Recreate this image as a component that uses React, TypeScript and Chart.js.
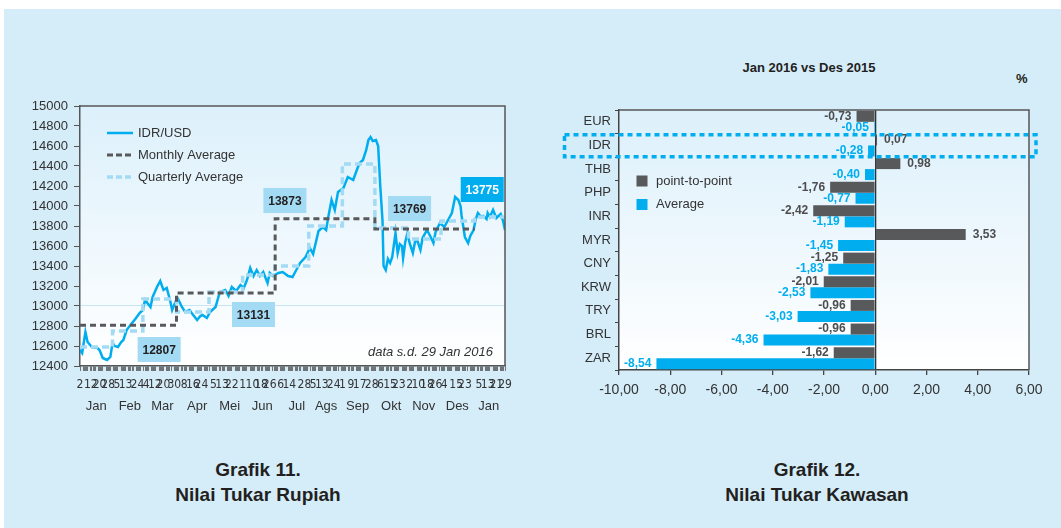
import React, { useEffect, useRef } from 'react';
import { Chart, registerables } from 'chart.js';

Chart.register(...registerables);

const FONT = '"Liberation Sans", Arial, sans-serif';
const NARROW = '"Liberation Sans Narrow", "DejaVu Sans Condensed", "Liberation Sans", sans-serif';
const BLUE = '#00aeef';
const LIGHT = '#a3daf4';
const DARK = '#58595b';
const TEXT = '#333333';

// ---------- Grafik 11 data ----------
const idrDates = [
  '2015-01-02','2015-01-04','2015-01-07','2015-01-09','2015-01-13','2015-01-18','2015-01-20','2015-01-23','2015-01-25','2015-01-27','2015-01-30',
  '2015-02-01','2015-02-03','2015-02-06','2015-02-09','2015-02-11','2015-02-14','2015-02-19','2015-02-22','2015-02-26',
  '2015-03-01','2015-03-03','2015-03-08','2015-03-10','2015-03-14','2015-03-17','2015-03-20','2015-03-23','2015-03-26','2015-03-28','2015-03-31',
  '2015-04-02','2015-04-06','2015-04-09','2015-04-13','2015-04-15','2015-04-20','2015-04-23','2015-04-25','2015-04-29',
  '2015-05-02','2015-05-07','2015-05-11','2015-05-16','2015-05-19','2015-05-22','2015-05-26','2015-05-30',
  '2015-06-02','2015-06-05','2015-06-08','2015-06-11','2015-06-14','2015-06-17','2015-06-20','2015-06-24','2015-06-26','2015-06-29',
  '2015-07-04','2015-07-08','2015-07-13','2015-07-17','2015-07-20','2015-07-24','2015-07-29',
  '2015-08-02','2015-08-05','2015-08-10','2015-08-14','2015-08-17','2015-08-19','2015-08-22','2015-08-25','2015-08-28',
  '2015-09-02','2015-09-06','2015-09-11','2015-09-15','2015-09-17','2015-09-20','2015-09-23','2015-09-25','2015-09-27','2015-09-29',
  '2015-10-02','2015-10-04','2015-10-06','2015-10-08','2015-10-09','2015-10-11','2015-10-13','2015-10-15','2015-10-17','2015-10-20','2015-10-22','2015-10-24','2015-10-26','2015-10-27','2015-10-29','2015-10-31',
  '2015-11-02','2015-11-05','2015-11-07','2015-11-09','2015-11-12','2015-11-14','2015-11-18','2015-11-21','2015-11-24','2015-11-26','2015-11-30',
  '2015-12-04','2015-12-07','2015-12-09','2015-12-11','2015-12-14','2015-12-17','2015-12-19','2015-12-20','2015-12-23','2015-12-26','2015-12-28','2015-12-31',
  '2016-01-02','2016-01-04','2016-01-07','2016-01-09','2016-01-12','2016-01-13','2016-01-15','2016-01-18','2016-01-21','2016-01-23','2016-01-25','2016-01-27','2016-01-29',
];
const idrValues = [
  12560, 12530, 12740, 12640, 12590, 12580, 12560, 12480, 12470, 12460, 12490,
  12630, 12600, 12590, 12640, 12660, 12760, 12830, 12870, 12930,
  12960, 13060, 12990, 13090, 13190, 13250, 13160, 13180, 13060, 12960, 13040,
  13080, 12990, 12940, 12960, 12930, 12860, 12900, 12910, 12880,
  12940, 12990, 13140, 13160, 13100, 13190, 13150, 13210,
  13180, 13260, 13380, 13300, 13360, 13300, 13340, 13230, 13330, 13300,
  13330, 13340, 13300, 13290, 13350, 13430, 13490,
  13580, 13520, 13750, 13790, 13760, 13890, 14060, 13960, 14140,
  14180, 14290, 14260, 14380, 14430, 14460, 14560, 14660, 14690, 14650,
  14660, 14600, 14190, 13860, 13400, 13360, 13470, 13430, 13490, 13730, 13530, 13620, 13600, 13480, 13640, 13730,
  13630, 13530, 13640, 13660, 13560, 13680, 13760, 13700, 13630, 13740, 13830,
  13790, 13850, 13890, 13930, 14090, 14060, 14000, 13900, 13690, 13630, 13700, 13760,
  13870, 13930, 13890, 13900, 13870, 13930, 13890, 13960, 13880, 13900, 13920, 13860, 13760,
];

// dark dashed step line (legend: Monthly Average)
const monthlyAvgDates = ['2015-01-02', '2015-04-01', '2015-07-01', '2015-10-01', '2016-01-01'];
const monthlyAvgValues = [12807, 13131, 13873, 13769, 13769];

// light dashed step line (legend: Quarterly Average)
const quarterlyAvgDates = [
  '2015-01-02', '2015-02-01', '2015-03-01', '2015-04-01', '2015-05-01', '2015-06-01', '2015-07-01',
  '2015-08-01', '2015-09-01', '2015-10-01', '2015-11-01', '2015-12-01', '2016-01-01', '2016-01-29',
];
const quarterlyAvgValues = [12590, 12750, 13070, 12940, 13140, 13310, 13400, 13800, 14420, 13780, 13670, 13850, 13890, 13890];

const boxTexts = ['12807', '13131', '13873', '13769', '13775'];
const boxDates = ['2015-03-16', '2015-06-11', '2015-07-10', '2015-11-02', '2016-01-08'];
const boxValues = [12565, 12915, 14055, 13975, 14165];

const dayTickDates = [
  '2015-01-02','2015-01-12','2015-01-20','2015-01-28',
  '2015-02-05','2015-02-13','2015-02-24',
  '2015-03-04','2015-03-12','2015-03-20','2015-03-30',
  '2015-04-08','2015-04-16','2015-04-24',
  '2015-05-05','2015-05-13','2015-05-22',
  '2015-06-01','2015-06-10','2015-06-18','2015-06-26',
  '2015-07-06','2015-07-14','2015-07-28',
  '2015-08-05','2015-08-13','2015-08-24',
  '2015-09-01','2015-09-09','2015-09-17','2015-09-28',
  '2015-10-06','2015-10-15','2015-10-23',
  '2015-11-02','2015-11-10','2015-11-18','2015-11-26',
  '2015-12-04','2015-12-15','2015-12-23',
  '2016-01-05','2016-01-13','2016-01-21','2016-01-29',
];
const monthLabels = ['Jan', 'Feb', 'Mar', 'Apr', 'Mei', 'Jun', 'Jul', 'Ags', 'Sep', 'Okt', 'Nov', 'Des', 'Jan'];
const monthLabelDates = [
  '2015-01-17', '2015-02-17', '2015-03-19', '2015-04-20', '2015-05-20', '2015-06-19', '2015-07-21',
  '2015-08-17', '2015-09-15', '2015-10-16', '2015-11-15', '2015-12-16', '2016-01-14',
];

// ---------- Grafik 12 data ----------
const currencies = ['EUR', 'IDR', 'THB', 'PHP', 'INR', 'MYR', 'CNY', 'KRW', 'TRY', 'BRL', 'ZAR'];
const pointToPoint = [-0.73, 0.07, 0.98, -1.76, -2.42, 3.53, -1.25, -2.01, -0.96, -0.96, -1.62];
const averageChange = [-0.05, -0.28, -0.40, -0.77, -1.19, -1.45, -1.83, -2.53, -3.03, -4.36, -8.54];

const dayIndex = (s: string) => {
  const [y, m, d] = s.split('-').map(Number);
  return Math.round((Date.UTC(y, m - 1, d) - Date.UTC(2015, 0, 1)) / 86400000) + 1;
};
const X_MIN = dayIndex('2015-01-02');
const X_MAX = dayIndex('2016-01-29');

const fmtComma = (v: number) => v.toFixed(2).replace('.', ',');

const plotBg = {
  id: 'plotBg',
  beforeDraw(chart: any) {
    const { ctx, chartArea: a } = chart;
    const g = ctx.createLinearGradient(0, a.top, 0, a.bottom);
    g.addColorStop(0, '#dcf0fb');
    g.addColorStop(1, '#ffffff');
    ctx.save();
    ctx.fillStyle = g;
    ctx.fillRect(a.left, a.top, a.right - a.left, a.bottom - a.top);
    ctx.restore();
  },
  afterDraw(chart: any) {
    const { ctx, chartArea: a } = chart;
    ctx.save();
    ctx.strokeStyle = '#555';
    ctx.lineWidth = 1.5;
    ctx.beginPath();
    ctx.moveTo(a.left, a.top);
    ctx.lineTo(a.right, a.top);
    ctx.lineTo(a.right, a.bottom);
    ctx.stroke();
    ctx.restore();
  },
};

const leftDecor = {
  id: 'leftDecor',
  afterDraw(chart: any) {
    const { ctx, chartArea: a, scales } = chart;
    ctx.save();
    // legend
    const items = [
      { label: 'IDR/USD', color: BLUE, dash: [], w: 2.5 },
      { label: 'Monthly Average', color: DARK, dash: [6, 3], w: 3 },
      { label: 'Quarterly Average', color: LIGHT, dash: [6, 3], w: 3.5 },
    ];
    items.forEach((it, i) => {
      const y = a.top + 27 + i * 22;
      ctx.strokeStyle = it.color;
      ctx.lineWidth = it.w;
      ctx.setLineDash(it.dash);
      ctx.beginPath();
      ctx.moveTo(a.left + 27, y);
      ctx.lineTo(a.left + 53, y);
      ctx.stroke();
      ctx.setLineDash([]);
      ctx.fillStyle = TEXT;
      ctx.font = `13px ${FONT}`;
      ctx.textAlign = 'left';
      ctx.textBaseline = 'middle';
      ctx.fillText(it.label, a.left + 58, y);
    });
    // value boxes
    boxTexts.forEach((t, i) => {
      const cx = scales.x.getPixelForValue(dayIndex(boxDates[i]));
      const cy = scales.y.getPixelForValue(boxValues[i]);
      const last = i === boxTexts.length - 1;
      ctx.fillStyle = last ? BLUE : LIGHT;
      ctx.fillRect(cx - 21.5, cy - 12.5, 43, 25);
      ctx.fillStyle = last ? '#ffffff' : '#231f20';
      ctx.font = `bold 12px ${FONT}`;
      ctx.textAlign = 'center';
      ctx.textBaseline = 'middle';
      ctx.fillText(t, cx, cy + 1);
    });
    // note
    ctx.fillStyle = TEXT;
    ctx.font = `italic 13px ${FONT}`;
    ctx.textAlign = 'right';
    ctx.textBaseline = 'middle';
    ctx.fillText('data s.d. 29 Jan 2016', a.right - 12, a.bottom - 14);
    ctx.restore();
  },
};

const rightDecor = {
  id: 'rightDecor',
  afterDatasetsDraw(chart: any) {
    const { ctx, chartArea: a, scales } = chart;
    ctx.save();
    // bar value labels
    chart.data.datasets.forEach((ds: any, di: number) => {
      const meta = chart.getDatasetMeta(di);
      meta.data.forEach((bar: any, i: number) => {
        const v = ds.data[i];
        ctx.font = `bold 12px ${FONT}`;
        ctx.fillStyle = di === 0 ? '#4d4d4f' : BLUE;
        ctx.textBaseline = 'middle';
        if (v < 0) {
          ctx.textAlign = 'right';
          ctx.fillText(fmtComma(v), bar.x - 5, bar.y);
        } else {
          ctx.textAlign = 'left';
          ctx.fillText(fmtComma(v), bar.x + 7, bar.y);
        }
      });
    });
    // legend
    const leg = [
      { label: 'point-to-point', color: DARK },
      { label: 'Average', color: BLUE },
    ];
    leg.forEach((l, i) => {
      const y = a.top + 71 + i * 23.5;
      ctx.fillStyle = l.color;
      ctx.fillRect(a.left + 17.5, y - 5.5, 11, 11);
      ctx.fillStyle = TEXT;
      ctx.font = `13px ${FONT}`;
      ctx.textAlign = 'left';
      ctx.textBaseline = 'middle';
      ctx.fillText(l.label, a.left + 37, y);
    });
    // IDR highlight box
    const yc = scales.y.getPixelForValue(1);
    const half = (a.bottom - a.top) / currencies.length / 2;
    ctx.strokeStyle = BLUE;
    ctx.lineWidth = 3.5;
    ctx.setLineDash([5, 4]);
    ctx.strokeRect(a.left - 54.5, yc - half + 1, a.right - a.left + 61.5, 2 * half - 1.5);
    ctx.restore();
  },
};

export default function App() {
  const leftRef = useRef<HTMLCanvasElement>(null);
  const rightRef = useRef<HTMLCanvasElement>(null);

  useEffect(() => {
    const tickLabelMap = new Map<number, string>();
    dayTickDates.forEach((d) => tickLabelMap.set(dayIndex(d), String(Number(d.split('-')[2]))));
    const monthMap = new Map<number, string>();
    monthLabelDates.forEach((d, i) => monthMap.set(dayIndex(d), monthLabels[i]));

    const dayTicks: number[] = [];
    for (let d = X_MIN; d <= X_MAX; d++) {
      const wd = new Date(Date.UTC(2015, 0, d)).getUTCDay();
      if ((wd !== 0 && wd !== 6) || tickLabelMap.has(d)) dayTicks.push(d);
    }

    const left = new Chart(leftRef.current!, {
      type: 'line',
      data: {
        datasets: [
          {
            label: 'Monthly Average',
            data: monthlyAvgDates.map((d, i) => ({ x: dayIndex(d), y: monthlyAvgValues[i] })),
            borderColor: DARK,
            borderWidth: 3,
            borderDash: [6, 4],
            stepped: 'before',
            pointRadius: 0,
          },
          {
            label: 'Quarterly Average',
            data: quarterlyAvgDates.map((d, i) => ({ x: dayIndex(d), y: quarterlyAvgValues[i] })),
            borderColor: LIGHT,
            borderWidth: 3.5,
            borderDash: [7, 4],
            stepped: 'before',
            pointRadius: 0,
          },
          {
            label: 'IDR/USD',
            data: idrDates.map((d, i) => ({ x: dayIndex(d), y: idrValues[i] })),
            borderColor: BLUE,
            borderWidth: 2.5,
            pointRadius: 0,
            tension: 0,
          },
        ],
      },
      options: {
        responsive: false,
        animation: false,
        layout: { padding: { top: 16, right: 25, left: 0, bottom: 0 } },
        plugins: { legend: { display: false }, tooltip: { enabled: false } },
        scales: {
          x: {
            type: 'linear',
            min: X_MIN,
            max: X_MAX,
            weight: 0,
            afterBuildTicks: (s: any) => { s.ticks = dayTicks.map((v) => ({ value: v })); },
            afterFit: (s: any) => { s.height = 28; },
            ticks: {
              autoSkip: false,
              maxRotation: 0,
              minRotation: 0,
              padding: 7,
              color: TEXT,
              font: { family: NARROW, size: 12 },
              callback: (v: any) => tickLabelMap.get(v) ?? '',
            },
            grid: { drawOnChartArea: false, tickLength: 5, tickColor: '#555', tickWidth: 0.8 },
            border: { color: '#555', width: 1.5 },
          },
          xm: {
            type: 'linear',
            position: 'bottom',
            min: X_MIN,
            max: X_MAX,
            weight: 1,
            afterBuildTicks: (s: any) => { s.ticks = monthLabelDates.map((d) => ({ value: dayIndex(d) })); },
            afterFit: (s: any) => { s.height = 26; },
            ticks: {
              autoSkip: false,
              maxRotation: 0,
              minRotation: 0,
              padding: 5,
              color: TEXT,
              font: { family: FONT, size: 13 },
              callback: (v: any) => monthMap.get(v) ?? '',
            },
            grid: { display: false, drawTicks: false },
            border: { display: false },
          },
          y: {
            min: 12400,
            max: 15000,
            afterFit: (s: any) => { s.width = 80; },
            ticks: {
              stepSize: 200,
              padding: 6,
              color: TEXT,
              font: { family: FONT, size: 13 },
              callback: (v: any) => String(v),
            },
            grid: {
              color: (c: any) => (c.tick && c.tick.value === 13000 ? '#c9e5f4' : 'rgba(0,0,0,0)'),
              tickColor: '#555',
              tickLength: 6,
            },
            border: { color: '#555', width: 1.5 },
          },
        },
      },
      plugins: [plotBg, leftDecor],
    });

    const right = new Chart(rightRef.current!, {
      type: 'bar',
      data: {
        labels: currencies,
        datasets: [
          { label: 'point-to-point', data: pointToPoint, backgroundColor: DARK },
          { label: 'Average', data: averageChange, backgroundColor: BLUE },
        ],
      },
      options: {
        indexAxis: 'y',
        responsive: false,
        animation: false,
        layout: { padding: { top: 20, right: 32, left: 0, bottom: 0 } },
        datasets: { bar: { categoryPercentage: 0.93, barPercentage: 1 } },
        plugins: { legend: { display: false }, tooltip: { enabled: false } },
        scales: {
          x: {
            min: -10,
            max: 6,
            afterFit: (s: any) => { s.height = 40; },
            ticks: {
              stepSize: 2,
              padding: 7,
              color: TEXT,
              font: { family: FONT, size: 14 },
              callback: (v: any) => fmtComma(Number(v)),
            },
            grid: {
              color: (c: any) => (c.tick && c.tick.value === 0 ? '#333' : 'rgba(0,0,0,0)'),
              tickColor: '#444',
              tickLength: 5,
              lineWidth: 1.3,
            },
            border: { color: '#444', width: 1.5 },
          },
          y: {
            afterFit: (s: any) => { s.width = 79; },
            ticks: { padding: 4, color: TEXT, font: { family: FONT, size: 13 } },
            grid: { drawOnChartArea: false, offset: true, tickColor: '#444', tickLength: 4 },
            border: { color: '#444', width: 1.5 },
          },
        },
      },
      plugins: [plotBg, rightDecor],
    });

    return () => {
      left.destroy();
      right.destroy();
    };
  }, []);

  const caption: React.CSSProperties = {
    position: 'absolute',
    width: 300,
    textAlign: 'center',
    fontFamily: FONT,
    fontWeight: 'bold',
    fontSize: 19,
    lineHeight: '25px',
    color: '#231f20',
  };

  return (
    <div style={{ position: 'fixed', left: 0, top: 0, width: 1061, height: 528, background: '#ffffff', overflow: 'hidden' }}>
      <div style={{ position: 'absolute', left: 4, top: 9, right: 0, bottom: 0, background: '#d5ecf9' }} />
      <canvas ref={leftRef} width={530} height={330} style={{ position: 'absolute', left: 0, top: 90, display: 'block' }} />
      <canvas ref={rightRef} width={521} height={320} style={{ position: 'absolute', left: 540, top: 90, display: 'block' }} />
      <div style={{ position: 'absolute', left: 709, top: 60, width: 200, textAlign: 'center', fontFamily: FONT, fontWeight: 'bold', fontSize: 13, color: '#231f20' }}>
        Jan 2016 vs Des 2015
      </div>
      <div style={{ position: 'absolute', left: 1016, top: 71, fontFamily: FONT, fontWeight: 'bold', fontSize: 13, color: '#231f20' }}>%</div>
      <div style={{ ...caption, left: 108, top: 457 }}>
        Grafik 11.
        <br />
        Nilai Tukar Rupiah
      </div>
      <div style={{ ...caption, left: 667, top: 457 }}>
        Grafik 12.
        <br />
        Nilai Tukar Kawasan
      </div>
    </div>
  );
}
